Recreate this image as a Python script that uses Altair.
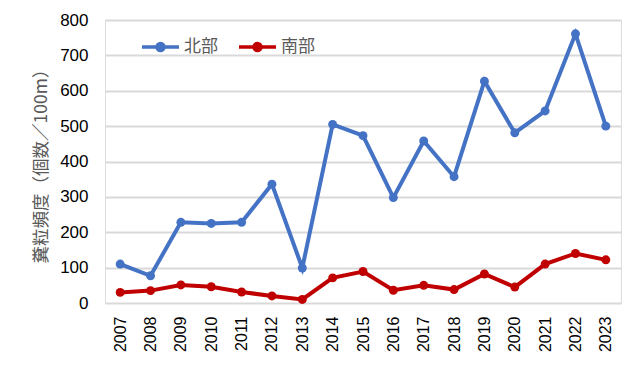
import altair as alt
import pandas as pd

years = [str(y) for y in range(2007, 2024)]
north = [110, 77, 228, 225, 228, 336, 99, 505, 473, 298, 458, 357, 627, 481, 543, 761, 500]
south = [30, 35, 51, 46, 31, 20, 10, 71, 89, 36, 50, 38, 82, 45, 110, 140, 122]
series = ["北部", "南部"]
colors = ["#4472C4", "#C00000"]
y_ticks = [0, 100, 200, 300, 400, 500, 600, 700, 800]

rows = []
for i, yr in enumerate(years):
    rows.append({"year": yr, "series": series[0], "value": north[i]})
    rows.append({"year": yr, "series": series[1], "value": south[i]})
df = pd.DataFrame(rows)

legend_path = "M-1,0H1M0.19,0A0.19,0.19,0,1,1,-0.19,0A0.19,0.19,0,1,1,0.19,0Z"

chart = (
    alt.Chart(df)
    .mark_line(strokeWidth=4, point=alt.OverlayMarkDef(filled=True, size=80, opacity=1))
    .encode(
        x=alt.X(
            "year:O",
            sort=years,
            scale=alt.Scale(type="point", padding=0.5),
            axis=alt.Axis(
                title=None,
                labelAngle=-90,
                labelFont="Liberation Sans",
                labelFontSize=16,
                labelColor="#000000",
                labelPadding=13,
                ticks=False,
                domain=False,
                grid=False,
            ),
        ),
        y=alt.Y(
            "value:Q",
            scale=alt.Scale(domain=[0, 800], nice=False),
            axis=alt.Axis(
                title="糞粒頻度（個数／100m）",
                titleFont="Noto Sans CJK JP",
                titleFontSize=17.5,
                titleFontWeight="normal",
                titleColor="#595959",
                titlePadding=9,
                values=y_ticks,
                labelFont="Liberation Sans",
                labelFontSize=17,
                labelColor="#000000",
                labelPadding=17,
                ticks=False,
                domain=False,
                gridColor="#D9D9D9",
                gridWidth=2,
            ),
        ),
        color=alt.Color(
            "series:N",
            sort=series,
            scale=alt.Scale(domain=series, range=colors),
            legend=alt.Legend(
                title=None,
                orient="none",
                legendX=35,
                legendY=6,
                direction="horizontal",
                symbolType=legend_path,
                symbolSize=1369,
                symbolStrokeWidth=3.5,
                labelFont="Noto Sans CJK JP",
                labelFontSize=17,
                labelColor="#595959",
                labelOffset=3,
                columnPadding=14,
            ),
        ),
    )
    .properties(
        width=516,
        height=283,
        autosize=alt.AutoSizeParams(type="none"),
        padding={"left": 97, "top": 12, "right": 11, "bottom": 77},
    )
    .configure_view(stroke="#000000", strokeWidth=2)
    .configure(background="white")
)

chart.save("out.html", embed_options={"renderer": "svg", "actions": False})
